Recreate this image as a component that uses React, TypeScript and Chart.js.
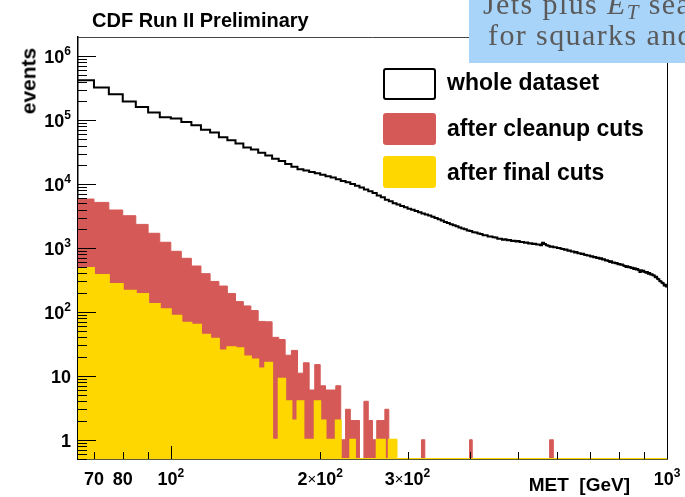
import React, { useEffect, useRef } from 'react';
import { Chart, registerables } from 'chart.js';

Chart.register(...registerables);

// ---- binning / ranges ----
const BIN_START = 65;
const BIN_WIDTH = 5;
const X_MIN = 65;
const X_MAX = 1000;
const Y_MIN = 0.5;
const Y_MAX = 2e6;

// ---- whole dataset (5 GeV bins from 65 GeV) ----
const wholeDataset = [
  420000, 324000, 255000, 196000, 160000, 132000, 111000, 106000, 94000, 83500,
  70500, 64300, 54200, 48700, 43200, 37400, 34800, 30800, 28100, 24800,
  22900, 20700, 18600, 17000, 16300, 15400, 14800, 14000, 13300, 12700,
  11900, 11200, 10700, 10000, 9400, 8850, 8200, 7750, 7250, 6650,
  6200, 5700, 5400, 5000, 4800, 4550, 4330, 4100, 3960, 3800,
  3620, 3480, 3340, 3210, 3080, 2960, 2810, 2700, 2560, 2460,
  2360, 2270, 2180, 2100, 2010, 1960, 1870, 1850, 1770, 1750,
  1680, 1650, 1590, 1580, 1520, 1510, 1470, 1460, 1400, 1390,
  1350, 1370, 1320, 1340, 1290, 1300, 1260, 1290, 1240, 1240,
  1210, 1220, 1180, 1190, 1150, 1170, 1130, 1130, 1100, 1210,
  1160, 1100, 1080, 1050, 1060, 1030, 1030, 1000, 1000, 970,
  965, 935, 945, 905, 910, 880, 880, 850, 865, 825,
  830, 805, 815, 785, 780, 760, 765, 735, 745, 715,
  725, 700, 705, 680, 690, 660, 665, 640, 645, 625,
  605, 620, 590, 595, 575, 585, 555, 560, 545, 550,
  530, 525, 505, 520, 500, 505, 485, 490, 470, 480,
  460, 470, 450, 420, 450, 430, 440, 420, 410, 420,
  395, 405, 385, 390, 375, 370, 350, 355, 330, 325,
  305, 300, 285, 280, 260, 265, 250,
];

// ---- after cleanup cuts (bins from 65 GeV) ----
const cleanupCounts = [
  5830, 5170, 3930, 3200, 2340, 1700, 1230, 888, 690, 523,
  397, 300, 254, 194, 145, 124, 105, 71, 70, 40,
  37, 21, 25, 11, 16, 6, 15, 7, 6, 6,
  7, 1, 3, 2, 2, 0, 4, 2, 1, 2,
  2, 3, 1, 1, 0,
];
const cleanupTailBins = [320, 400, 580, 585];
const cleanupTailCounts = [1, 1, 1, 1];

// ---- after final cuts (bins from 65 GeV) ----
const finalCounts = [
  487, 378, 274, 215, 191, 133, 110, 87, 68, 63,
  44, 38, 25, 28, 27, 20, 18, 13, 16, 1,
  9, 4, 2, 4, 1, 1, 4, 2, 1, 1,
  2, 0, 0, 1, 0, 0, 0, 0, 0, 1,
  1, 0, 1, 1, 0,
];

// ---- ticks ----
const xTickValues = [70, 80, 90, 100, 200, 300, 400, 500, 600, 700, 800, 900, 1000];
const xTickLabelValues = [70, 80, 100, 200, 300, 1000];
const xTickLabels = ['70', '80', '10^2', '2\u00D710^2', '3\u00D710^2', '10^3'];
const yMajorValues = [1, 10, 100, 1e3, 1e4, 1e5, 1e6];
const yTickLabels = ['1', '10', '10^2', '10^3', '10^4', '10^5', '10^6'];

const legendLabels = ['whole dataset', 'after cleanup cuts', 'after final cuts'];
const RED = '#d55a57';
const YELLOW = '#ffd700';

const FONT = "'Liberation Sans', Arial, Helvetica, sans-serif";
const BASE_FONT = `bold 18px ${FONT}`;
const EXP_FONT = `bold 12px ${FONT}`;
const TIMES_FONT = `15px ${FONT}`;

const isPow10 = (v: number) => Math.abs(Math.log10(v) - Math.round(Math.log10(v))) < 1e-6;

function buildYTicks() {
  const t: { value: number }[] = [];
  for (let e = -1; e <= 6; e++) {
    for (let m = 1; m <= 9; m++) {
      const v = m * Math.pow(10, e);
      if (v >= Y_MIN - 1e-9 && v <= 1e6 + 1) t.push({ value: v });
    }
  }
  return t;
}

function toSteps(counts: number[]) {
  const pts = counts.map((c, i) => ({ x: BIN_START + i * BIN_WIDTH, y: c > 0 ? c : Y_MIN }));
  pts.push({ x: X_MAX, y: pts[pts.length - 1].y });
  return pts;
}

const cleanupFull = wholeDataset.map((_, i) => {
  if (i < cleanupCounts.length) return cleanupCounts[i];
  const k = cleanupTailBins.indexOf(BIN_START + i * BIN_WIDTH);
  return k >= 0 ? cleanupTailCounts[k] : 0;
});
const finalFull = wholeDataset.map((_, i) => (i < finalCounts.length ? finalCounts[i] : 0));

// split a label like "2×10^2" into drawable pieces
function labelPieces(text: string) {
  const [base, exp] = text.split('^');
  const pieces: { t: string; font: string; dy: number }[] = [];
  const parts = base.split('\u00D7');
  parts.forEach((p, i) => {
    if (i > 0) pieces.push({ t: '\u00D7', font: TIMES_FONT, dy: -1 });
    if (p) pieces.push({ t: p, font: BASE_FONT, dy: 0 });
  });
  if (exp) pieces.push({ t: exp, font: EXP_FONT, dy: -8 });
  return pieces;
}

function drawLabel(ctx: CanvasRenderingContext2D, text: string, x: number, baseline: number, align: 'right' | 'center') {
  const pieces = labelPieces(text);
  const widths = pieces.map((p) => {
    ctx.font = p.font;
    return ctx.measureText(p.t).width;
  });
  const total = widths.reduce((a, b) => a + b, 0);
  let cx = align === 'right' ? x - total : x - total / 2;
  ctx.textAlign = 'left';
  ctx.textBaseline = 'alphabetic';
  pieces.forEach((p, i) => {
    ctx.font = p.font;
    ctx.fillText(p.t, cx, baseline + p.dy);
    cx += widths[i];
  });
}

const axisDecor = {
  id: 'axisDecor',
  afterDatasetsDraw(chart: any) {
    const { ctx, chartArea: a, scales } = chart;
    const x = scales.x;
    const y = scales.y;
    ctx.save();
    ctx.strokeStyle = '#000';
    ctx.lineWidth = 1;
    x.ticks.forEach((t: any) => {
      const px = Math.round(x.getPixelForValue(t.value)) + 0.5;
      const len = isPow10(t.value) ? 13 : 7;
      ctx.beginPath();
      ctx.moveTo(px, a.bottom);
      ctx.lineTo(px, a.bottom - len);
      ctx.stroke();
    });
    y.ticks.forEach((t: any) => {
      const py = Math.round(y.getPixelForValue(t.value)) + 0.5;
      const len = isPow10(t.value) ? 18 : 9;
      ctx.beginPath();
      ctx.moveTo(a.left, py);
      ctx.lineTo(a.left + len, py);
      ctx.stroke();
    });
    // frame top & right
    ctx.strokeStyle = '#444';
    ctx.beginPath();
    ctx.moveTo(a.left, Math.round(a.top) + 0.5);
    ctx.lineTo(a.right, Math.round(a.top) + 0.5);
    ctx.stroke();
    ctx.strokeStyle = '#000';
    ctx.beginPath();
    ctx.moveTo(Math.round(a.right) + 0.5, a.top);
    ctx.lineTo(Math.round(a.right) + 0.5, a.bottom);
    ctx.stroke();

    // tick labels
    ctx.fillStyle = '#000';
    xTickLabelValues.forEach((v, i) => {
      drawLabel(ctx, xTickLabels[i], x.getPixelForValue(v), a.bottom + 26, 'center');
    });
    yMajorValues.forEach((v, i) => {
      drawLabel(ctx, yTickLabels[i], a.left - 7, y.getPixelForValue(v) + 7, 'right');
    });
    ctx.restore();
  },
};

export default function App() {
  const ref = useRef<HTMLCanvasElement | null>(null);

  useEffect(() => {
    document.body.style.margin = '0';
    const canvas = ref.current;
    if (!canvas) return;
    const chart = new Chart(canvas, {
      type: 'line',
      data: {
        datasets: [
          {
            label: legendLabels[0],
            data: toSteps(wholeDataset),
            stepped: true,
            borderColor: '#000',
            borderWidth: 2,
            pointRadius: 0,
            fill: false,
          },
          {
            label: legendLabels[2],
            data: toSteps(finalFull),
            stepped: true,
            borderColor: YELLOW,
            backgroundColor: YELLOW,
            borderWidth: 2,
            pointRadius: 0,
            fill: 'start',
          },
          {
            label: legendLabels[1],
            data: toSteps(cleanupFull),
            stepped: true,
            borderColor: RED,
            backgroundColor: RED,
            borderWidth: 1,
            pointRadius: 0,
            fill: 'start',
          },
        ],
      },
      options: {
        responsive: false,
        animation: false,
        devicePixelRatio: 1,
        layout: { padding: { left: 0, right: 18, top: 37, bottom: 0 } },
        plugins: {
          legend: { display: false },
          tooltip: { enabled: false },
          title: { display: false },
        },
        scales: {
          x: {
            type: 'logarithmic',
            min: X_MIN,
            max: X_MAX,
            afterBuildTicks: (s: any) => {
              s.ticks = xTickValues.map((v) => ({ value: v }));
            },
            afterFit: (s: any) => {
              s.height = 38;
            },
            grid: { display: true, drawOnChartArea: false, drawTicks: false },
            border: { display: true, color: '#5a5a3a', width: 1 },
            ticks: { autoSkip: false, maxRotation: 0, minRotation: 0, callback: () => '' },
          },
          y: {
            type: 'logarithmic',
            min: Y_MIN,
            max: Y_MAX,
            afterBuildTicks: (s: any) => {
              s.ticks = buildYTicks();
            },
            afterFit: (s: any) => {
              s.width = 78;
            },
            grid: { display: true, drawOnChartArea: false, drawTicks: false },
            border: { display: true, color: '#000', width: 1.5 },
            ticks: { autoSkip: false, callback: () => '' },
          },
        },
      } as any,
      plugins: [axisDecor],
    });
    return () => chart.destroy();
  }, []);

  const boxBase: React.CSSProperties = {
    position: 'absolute',
    left: 383,
    width: 53,
    height: 32,
    borderRadius: 3,
    boxSizing: 'border-box',
  };
  const legText: React.CSSProperties = {
    position: 'absolute',
    left: 447,
    fontFamily: FONT,
    fontWeight: 'bold',
    fontSize: 23,
    lineHeight: 1,
    whiteSpace: 'nowrap',
    color: '#000',
  };
  const serif: React.CSSProperties = {
    position: 'absolute',
    fontFamily: "'Liberation Serif', 'Times New Roman', serif",
    fontSize: 30,
    letterSpacing: 1.4,
    lineHeight: 1,
    color: '#5a5a5a',
    whiteSpace: 'nowrap',
  };

  return (
    <div style={{ position: 'relative', width: 685, height: 497, overflow: 'hidden', background: '#fff' }}>
      <canvas ref={ref} width={685} height={497} style={{ position: 'absolute', left: 0, top: 0, width: 685, height: 497 }} />
      <div
        style={{
          position: 'absolute', left: 92, top: 10, fontFamily: FONT, fontWeight: 'bold', fontSize: 20,
          lineHeight: 1, whiteSpace: 'nowrap', color: '#000',
        }}
      >
        CDF Run II Preliminary
      </div>
      <div
        style={{
          position: 'absolute', left: 28, top: 81, transform: 'translate(-50%, -50%) rotate(-90deg)',
          fontFamily: FONT, fontWeight: 'bold', fontSize: 21, lineHeight: 1, whiteSpace: 'nowrap', color: '#000',
        }}
      >
        events
      </div>
      <div
        style={{
          position: 'absolute', right: 55, top: 475, fontFamily: FONT, fontWeight: 'bold', fontSize: 19,
          lineHeight: 1, whiteSpace: 'pre', color: '#000',
        }}
      >
        {'MET  [GeV]'}
      </div>
      <div style={{ ...boxBase, top: 68, background: '#fff', border: '2px solid #000' }} />
      <div style={{ ...boxBase, top: 113, background: RED }} />
      <div style={{ ...boxBase, top: 156, background: YELLOW }} />
      <div style={{ ...legText, top: 71 }}>{legendLabels[0]}</div>
      <div style={{ ...legText, top: 117 }}>{legendLabels[1]}</div>
      <div style={{ ...legText, top: 161 }}>{legendLabels[2]}</div>
      <div style={{ position: 'absolute', left: 469, top: 0, width: 216, height: 63, background: '#a8d4fa', overflow: 'hidden' }}>
        <div style={{ ...serif, left: 14, top: -11 }}>
          Jets plus <i>E</i>
          <sub style={{ fontSize: '0.7em', verticalAlign: '-0.25em', fontStyle: 'italic' }}>T</sub> search
        </div>
        <div style={{ ...serif, left: 19, top: 20 }}>for squarks and gluinos</div>
      </div>
    </div>
  );
}
